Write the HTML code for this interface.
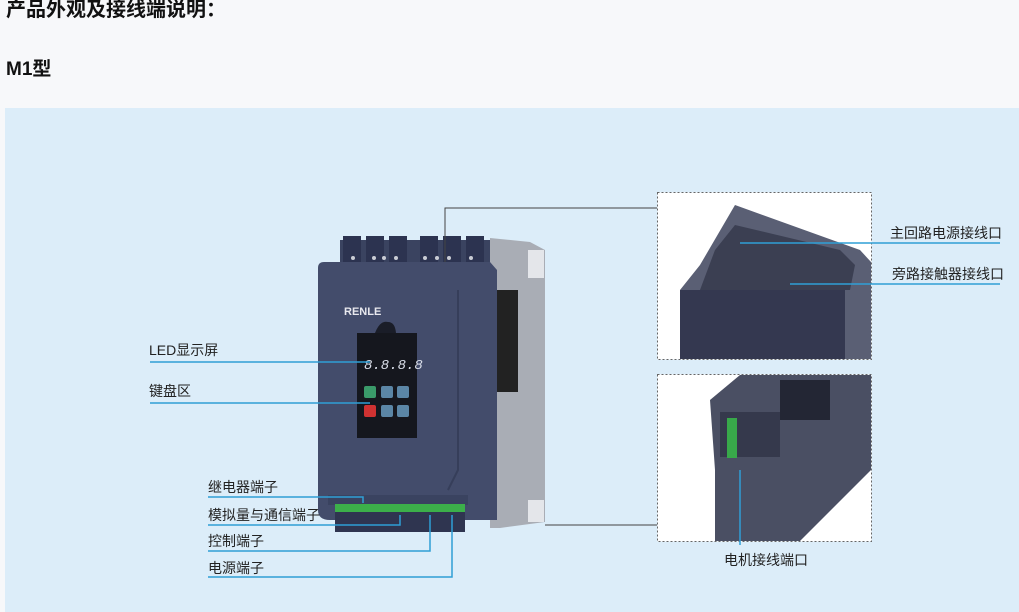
<!DOCTYPE html>
<html><head><meta charset="utf-8"><style>
html,body{margin:0;padding:0;width:1019px;height:612px;overflow:hidden;background:#f7f8fa;font-family:"Liberation Sans","Noto Sans CJK SC",sans-serif;}
</style></head><body>
<svg width="1019" height="612" xmlns="http://www.w3.org/2000/svg" style="position:absolute;left:0;top:0">
<text x="6" y="16" font-size="20" font-weight="bold" fill="#111" font-family="Liberation Sans,Noto Sans CJK SC,sans-serif">产品外观及接线端说明：</text>
<text x="6" y="75" font-size="19" font-weight="bold" fill="#111" font-family="Liberation Sans,Noto Sans CJK SC,sans-serif">M1型</text>
<rect x="5" y="108" width="1014" height="504" fill="#dcedf9"/>

<!-- device right side -->
<polygon points="490,238 530,242 545,250 545,522 500,528 490,528" fill="#a9adb5"/>
<rect x="528" y="250" width="16" height="28" fill="#e4e6ea"/>
<rect x="528" y="500" width="16" height="22" fill="#e4e6ea"/>
<rect x="496" y="290" width="22" height="102" fill="#222"/>
<!-- top terminals -->
<rect x="340" y="240" width="150" height="30" fill="#3a4360"/>
<g fill="#2c3350">
<rect x="343" y="236" width="18" height="30"/><rect x="366" y="236" width="18" height="30"/><rect x="389" y="236" width="18" height="30"/>
<rect x="420" y="236" width="18" height="30"/><rect x="443" y="236" width="18" height="30"/><rect x="466" y="236" width="18" height="30"/>
</g>
<g fill="#c9ccd4"><circle cx="353" cy="258" r="2"/><circle cx="374" cy="258" r="2"/><circle cx="384" cy="258" r="2"/><circle cx="396" cy="258" r="2"/><circle cx="425" cy="258" r="2"/><circle cx="437" cy="258" r="2"/><circle cx="449" cy="258" r="2"/><circle cx="471" cy="258" r="2"/></g>
<!-- front -->
<path d="M318,268 Q318,262 324,262 L490,262 L497,270 L497,520 L330,520 Q318,520 318,510 Z" fill="#434c6b"/>
<path d="M458,290 L458,470 L448,490" stroke="#363e5a" stroke-width="2" fill="none"/>
<text x="344" y="315" font-size="11" font-weight="bold" fill="#e8e8ee" font-family="Liberation Sans,sans-serif">RENLE</text>
<path d="M375,333 Q380,320 388,322 Q395,322 396,333 Z" fill="#1a1d28"/>
<rect x="357" y="333" width="60" height="105" fill="#15171e"/>
<text x="364" y="369" font-size="14" fill="#d8dde8" font-style="italic" font-family="Liberation Mono,monospace">8.8.8.8</text>
<rect x="364" y="386" width="12" height="12" rx="2" fill="#3a9a6a"/><rect x="381" y="386" width="12" height="12" rx="2" fill="#5b86a6"/><rect x="397" y="386" width="12" height="12" rx="2" fill="#5b86a6"/>
<rect x="364" y="405" width="12" height="12" rx="2" fill="#d03232"/><rect x="381" y="405" width="12" height="12" rx="2" fill="#5b86a6"/><rect x="397" y="405" width="12" height="12" rx="2" fill="#5b86a6"/>
<!-- bottom terminals -->
<rect x="328" y="495" width="140" height="10" fill="#3a4360"/>
<rect x="335" y="504" width="130" height="8" fill="#3cb04a"/>
<rect x="335" y="512" width="130" height="20" fill="#2f3550"/>

<!-- right images -->
<rect x="657.5" y="192.5" width="214" height="167" fill="#fff" stroke="#666" stroke-dasharray="2,2"/>
<polygon points="680,359 680,290 700,265 735,205 860,250 871,262 871,359" fill="#5a5f74"/>
<polygon points="700,290 715,250 735,225 840,250 855,265 850,290" fill="#3b3f52"/>
<rect x="680" y="290" width="165" height="69" fill="#343850"/>
<rect x="657.5" y="374.5" width="214" height="167" fill="#fff" stroke="#666" stroke-dasharray="2,2"/>
<polygon points="710,400 740,375 871,375 871,470 800,541 715,541 715,470" fill="#4a4f63"/>
<rect x="720" y="412" width="60" height="45" fill="#35394c"/>
<rect x="727" y="418" width="10" height="40" fill="#38a84a"/>
<rect x="780" y="380" width="50" height="40" fill="#232634"/>

<!-- connectors gray -->
<polyline points="445,262 445,208 657,208" fill="none" stroke="#444" stroke-width="1"/>
<polyline points="545,525 657,525" fill="none" stroke="#444" stroke-width="1"/>

<!-- blue leader lines -->
<g stroke="#2f9fd6" stroke-width="1.5" fill="none">
<line x1="150" y1="362" x2="370" y2="362"/>
<line x1="150" y1="403" x2="370" y2="403"/>
<polyline points="208,497 363,497 363,503"/>
<polyline points="208,525 400,525 400,515"/>
<polyline points="208,551 430,551 430,515"/>
<polyline points="208,577 452,577 452,515"/>
<line x1="740" y1="243" x2="1000" y2="243"/>
<line x1="790" y1="284" x2="1000" y2="284"/>
<line x1="740" y1="470" x2="740" y2="545"/>
</g>

<g font-size="14" fill="#222" font-family="Liberation Sans,Noto Sans CJK SC,sans-serif">
<text x="149" y="355">LED显示屏</text>
<text x="149" y="396">键盘区</text>
<text x="208" y="492">继电器端子</text>
<text x="208" y="520">模拟量与通信端子</text>
<text x="208" y="546">控制端子</text>
<text x="208" y="573">电源端子</text>
<text x="890" y="238">主回路电源接线口</text>
<text x="892" y="279">旁路接触器接线口</text>
<text x="724" y="565">电机接线端口</text>
</g>
</svg>
</body></html>
